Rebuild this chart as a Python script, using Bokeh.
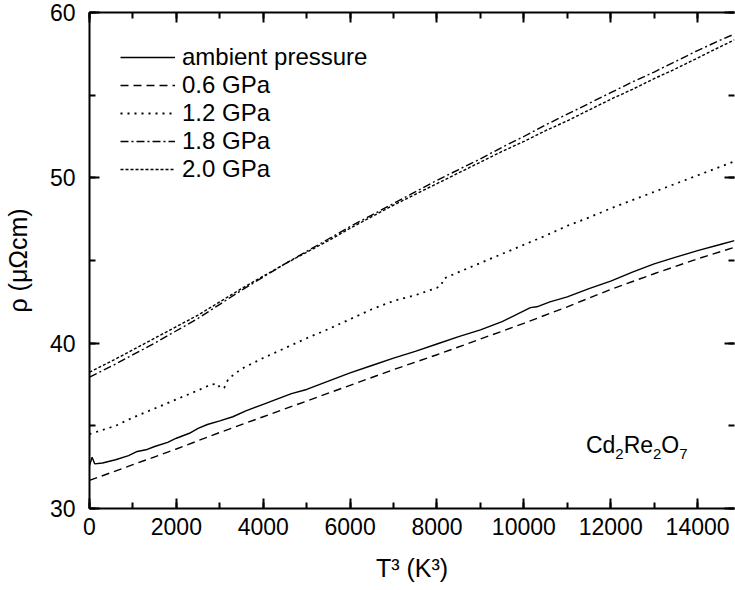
from bokeh.plotting import figure
from bokeh.models import (LinearAxis, Legend, LegendItem, Label, Range1d,
                          SingleIntervalTicker)
from bokeh.embed import file_html
from bokeh.resources import INLINE

FONT = "Liberation Sans"

# ---------------- data ----------------
amb_t3 = [0, 60, 120, 300, 600, 900, 1100, 1300, 1500, 1800, 2000, 2300, 2500,
          2714, 3000, 3300, 3600, 4000, 4300, 4650, 5000, 5500, 6000, 6500,
          7000, 7500, 8000, 8500, 9000, 9500, 10000, 10150, 10300, 10600,
          11000, 11500, 12000, 12500, 13000, 13500, 14000, 14500, 14850]
amb_rho = [32.6, 33.1, 32.7, 32.75, 32.95, 33.2, 33.45, 33.55, 33.75, 34.0,
           34.25, 34.55, 34.85, 35.08, 35.3, 35.55, 35.9, 36.3, 36.6, 36.95,
           37.2, 37.7, 38.2, 38.65, 39.1, 39.5, 39.95, 40.4, 40.8, 41.3,
           41.95, 42.15, 42.2, 42.5, 42.8, 43.3, 43.75, 44.3, 44.8, 45.2,
           45.6, 45.95, 46.2]

p06_t3 = [0, 1000, 2000, 3000, 4000, 5000, 6000, 7000, 8000, 9000, 10000,
          11000, 12000, 13000, 14000, 14850]
p06_rho = [31.7, 32.65, 33.6, 34.6, 35.55, 36.5, 37.45, 38.4, 39.3, 40.25,
           41.2, 42.2, 43.25, 44.2, 45.1, 45.8]

p12_t3 = [0, 300, 600, 1000, 1500, 2000, 2500, 2800, 2950, 3000, 3100, 3200,
          3500, 4000, 4500, 5000, 5500, 6000, 6500, 7000, 7200, 7500, 7700,
          8000, 8100, 8150, 8500, 9000, 9500, 10000, 10500, 11000, 11500,
          12000, 12500, 13000, 13500, 14000, 14500, 14850]
p12_rho = [34.5, 34.75, 35.0, 35.5, 36.05, 36.6, 37.15, 37.5, 37.55, 37.3,
           37.3, 37.85, 38.45, 39.1, 39.7, 40.3, 40.85, 41.45, 42.05, 42.55,
           42.7, 42.9, 43.08, 43.35, 43.5, 43.9, 44.3, 44.85, 45.4, 45.95,
           46.5, 47.1, 47.6, 48.15, 48.65, 49.15, 49.65, 50.15, 50.65, 51.0]

p18_t3 = [0, 500, 1000, 1500, 2000, 2500, 3000, 3500, 4000, 4500, 5000, 5500,
          6000, 6500, 7000, 7500, 8000, 8500, 9000, 9500, 10000, 10500, 11000,
          11500, 12000, 12500, 13000, 13500, 14000, 14500, 14850]
p18_rho = [37.95, 38.6, 39.3, 40.0, 40.75, 41.5, 42.35, 43.2, 44.0, 44.8,
           45.55, 46.3, 47.05, 47.75, 48.45, 49.15, 49.85, 50.5, 51.15, 51.85,
           52.5, 53.2, 53.85, 54.5, 55.15, 55.8, 56.4, 57.05, 57.7, 58.3, 58.7]

p20_t3 = [0, 500, 1000, 1500, 2000, 2500, 3000, 3500, 4000, 4500, 5000, 5500,
          6000, 6500, 7000, 7500, 8000, 8500, 9000, 9500, 10000, 10500, 11000,
          11500, 12000, 12500, 13000, 13500, 14000, 14500, 14850]
p20_rho = [38.25, 38.9, 39.6, 40.3, 41.0, 41.7, 42.5, 43.3, 44.05, 44.8, 45.5,
           46.2, 46.95, 47.65, 48.35, 49.0, 49.65, 50.3, 50.95, 51.6, 52.2,
           52.85, 53.45, 54.1, 54.75, 55.35, 56.0, 56.6, 57.25, 57.9, 58.35]

series_labels = ["ambient pressure", "0.6 GPa", "1.2 GPa", "1.8 GPa", "2.0 GPa"]

# ---------------- figure ----------------
p = figure(width=735, height=590, x_range=Range1d(0, 14850),
           y_range=Range1d(30, 60), output_backend="svg",
           toolbar_location=None, min_border_left=88, min_border_right=1,
           min_border_top=12, min_border_bottom=82)
p.grid.visible = False
p.outline_line_color = None
p.background_fill_color = "white"
p.border_fill_color = "white"


def style_axis(ax, xaxis, show_labels):
    ax.ticker = (SingleIntervalTicker(interval=2000, num_minor_ticks=2) if xaxis
                 else SingleIntervalTicker(interval=10, num_minor_ticks=2))
    ax.axis_line_width = 2
    ax.axis_line_color = "black"
    ax.major_tick_line_width = 2
    ax.minor_tick_line_width = 2
    ax.major_tick_line_color = "black"
    ax.minor_tick_line_color = "black"
    ax.major_tick_in = 10
    ax.major_tick_out = 0
    ax.minor_tick_in = 6
    ax.minor_tick_out = 0
    ax.major_label_text_font = FONT
    if show_labels:
        ax.major_label_text_color = "black"
        ax.major_label_text_font_size = "23px"
    else:
        ax.major_label_text_color = None
        ax.major_label_text_font_size = "1px"
        ax.major_label_standoff = 0


xa = p.xaxis[0]
ya = p.yaxis[0]
style_axis(xa, True, True)
style_axis(ya, False, True)
xa.major_label_standoff = 9
ya.major_label_standoff = 14
xa.axis_label = "T³ (K³)"
ya.axis_label = "ρ (μΩcm)"
for ax in (xa, ya):
    ax.axis_label_text_font = FONT
    ax.axis_label_text_font_size = "25px"
    ax.axis_label_text_font_style = "normal"
    ax.axis_label_text_color = "black"
xa.axis_label_standoff = 16
ya.axis_label_standoff = 15

top = LinearAxis()
style_axis(top, True, False)
p.add_layout(top, "above")
right = LinearAxis()
style_axis(right, False, False)
right.axis_line_color = None
p.add_layout(right, "right")

# ---------------- curves ----------------
lw = 1.4
r_amb = p.line(amb_t3, amb_rho, line_color="black", line_width=lw)
r_06 = p.line(p06_t3, p06_rho, line_color="black", line_width=lw,
              line_dash="8 5")
r_12 = p.line(p12_t3, p12_rho, line_color="black", line_width=lw + 0.4,
              line_dash="2 5")
r_18 = p.line(p18_t3, p18_rho, line_color="black", line_width=lw,
              line_dash="8 3 2 3")
r_20 = p.line(p20_t3, p20_rho, line_color="black", line_width=lw,
              line_dash="3 2")

items = [LegendItem(label=lab, renderers=[r])
         for lab, r in zip(series_labels, [r_amb, r_06, r_12, r_18, r_20])]
legend = Legend(items=items, location="top_left", border_line_alpha=0,
                background_fill_alpha=0, label_text_font=FONT,
                label_text_font_size="24px", label_text_color="black",
                glyph_width=55, glyph_height=20, label_height=20,
                spacing=0, label_standoff=7, margin=21, padding=10)
p.add_layout(legend)

# ---------------- compound label Cd2Re2O7 ----------------
compound = [("Cd", 0, 0, "23px"), ("2", 29.4, -9, "15px"),
            ("Re", 37.7, 0, "23px"), ("2", 67.1, -9, "15px"),
            ("O", 75.4, 0, "23px"), ("7", 93.3, -9, "15px")]
for txt, dx, dy, fs in compound:
    p.add_layout(Label(x=11430, y=33.85, x_offset=dx, y_offset=dy, text=txt,
                       text_font=FONT, text_font_size=fs, text_color="black",
                       text_baseline="alphabetic", text_align="left"))

open("out.html", "w").write(file_html(p, INLINE))
